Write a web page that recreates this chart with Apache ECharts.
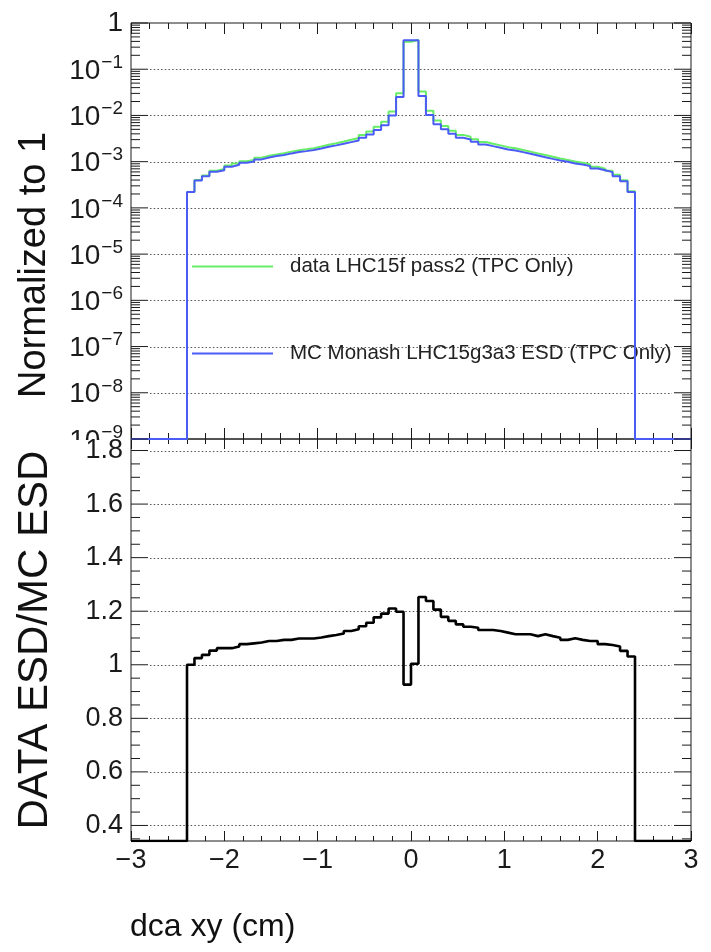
<!DOCTYPE html>
<html>
<head>
<meta charset="utf-8">
<script src="https://cdn.jsdelivr.net/npm/echarts@6/dist/echarts.min.js"></script>
<style>
  html, body { margin: 0; padding: 0; background: #fff; }
  #chart { width: 711px; height: 952px; }
</style>
</head>
<body>
<div id="chart"></div>
<script>
// Histogram binning: 60 bins of 0.08 cm from -2.4 to 2.4 cm
const binLow = -2.4;
const binWidth = 0.08;

// dca_xy distribution in data, normalised to unit area
const dataValues = [
  2.22e-4, 4.01e-4, 5.03e-4, 6.35e-4, 6.96e-4, 8.22e-4, 9.13e-4, 1.018e-3, 1.091e-3, 1.213e-3,
  1.339e-3, 1.437e-3, 1.519e-3, 1.650e-3, 1.768e-3, 1.856e-3, 1.954e-3, 2.127e-3, 2.325e-3, 2.500e-3,
  2.725e-3, 2.984e-3, 3.263e-3, 3.775e-3, 4.501e-3, 5.685e-3, 7.265e-3, 1.210e-2, 3.007e-2, 0.3936,
  0.4267, 3.308e-2, 1.263e-2, 7.73e-3, 5.895e-3, 4.679e-3, 3.798e-3, 3.460e-3, 3.073e-3, 2.667e-3,
  2.452e-3, 2.252e-3, 2.061e-3, 1.950e-3, 1.794e-3, 1.649e-3, 1.506e-3, 1.393e-3, 1.273e-3, 1.167e-3,
  1.085e-3, 1.004e-3, 9.50e-4, 8.71e-4, 7.74e-4, 7.05e-4, 6.37e-4, 5.18e-4, 3.98e-4, 2.29e-4
];

// dca_xy distribution in simulation, normalised to unit area
const mcValues = [
  2.22e-4, 3.91e-4, 4.85e-4, 6.03e-4, 6.55e-4, 7.74e-4, 8.55e-4, 9.45e-4, 1.01e-3, 1.12e-3,
  1.23e-3, 1.32e-3, 1.39e-3, 1.51e-3, 1.61e-3, 1.69e-3, 1.78e-3, 1.93e-3, 2.10e-3, 2.25e-3,
  2.44e-3, 2.65e-3, 2.88e-3, 3.30e-3, 3.89e-3, 4.83e-3, 6.10e-3, 1.00e-2, 2.51e-2, 0.425,
  0.425, 2.64e-2, 1.02e-2, 6.41e-3, 5.0e-3, 4.02e-3, 3.30e-3, 3.03e-3, 2.70e-3, 2.36e-3,
  2.17e-3, 2.0e-3, 1.84e-3, 1.75e-3, 1.61e-3, 1.48e-3, 1.36e-3, 1.25e-3, 1.15e-3, 1.06e-3,
  9.93e-4, 9.14e-4, 8.69e-4, 8.0e-4, 7.11e-4, 6.55e-4, 5.93e-4, 4.85e-4, 3.78e-4, 2.22e-4
];

// DATA / MC ratio per bin
const ratioValues = [
  1.000, 1.025, 1.037, 1.053, 1.062, 1.062, 1.068, 1.077, 1.080, 1.083,
  1.089, 1.089, 1.093, 1.093, 1.098, 1.098, 1.098, 1.102, 1.107, 1.111,
  1.117, 1.126, 1.133, 1.144, 1.157, 1.177, 1.191, 1.210, 1.198, 0.926,
  1.004, 1.253, 1.238, 1.206, 1.179, 1.164, 1.151, 1.142, 1.138, 1.130,
  1.130, 1.126, 1.120, 1.114, 1.114, 1.114, 1.107, 1.114, 1.107, 1.101,
  1.093, 1.099, 1.093, 1.089, 1.089, 1.077, 1.074, 1.068, 1.052, 1.031
];

const seriesNames = ['data LHC15f pass2 (TPC Only)', 'MC Monash LHC15g3a3 ESD (TPC Only)'];
const xRange = [-3, 3];
const normRange = [1e-9, 1];
const ratioRange = [0.342, 1.843];
const decadeExponents = [-9, -8, -7, -6, -5, -4, -3, -2, -1, 0];
const ratioTickValues = [0.4, 0.6, 0.8, 1.0, 1.2, 1.4, 1.6, 1.8];

const FONT = 'Liberation Sans, Arial, Helvetica, sans-serif';
const INK = '#1a1a1a';
const GREEN = '#66ee66';
const BLUE = '#4b5bf5';

// Histogram outline as step points; empty bins outside the range sit on the frame floor
function stepPoints(values, floor) {
  const pts = [[xRange[0], floor]];
  values.forEach((v, i) => pts.push([binLow + i * binWidth, v]));
  pts.push([binLow + values.length * binWidth, floor]);
  pts.push([xRange[1], floor]);
  return pts;
}

// Tick marks on both vertical frame edges: items are [yValue, length]
function edgeTickSeries(xIdx, yIdx, items) {
  return {
    type: 'custom', xAxisIndex: xIdx, yAxisIndex: yIdx, silent: true, z: 6,
    data: items.map(([v, len]) => [xRange[0], v, len]),
    renderItem(params, api) {
      const cs = params.coordSys;
      const y = api.coord([api.value(0), api.value(1)])[1];
      const len = api.value(2);
      const st = { stroke: INK, lineWidth: 1 };
      return { type: 'group', children: [
        { type: 'line', shape: { x1: cs.x, y1: y, x2: cs.x + len, y2: y }, style: st },
        { type: 'line', shape: { x1: cs.x + cs.width - len, y1: y, x2: cs.x + cs.width, y2: y }, style: st }
      ] };
    }
  };
}

// Dotted horizontal grid lines
function gridLineSeries(xIdx, yIdx, values) {
  return {
    type: 'custom', xAxisIndex: xIdx, yAxisIndex: yIdx, silent: true, z: 1,
    data: values.map(v => [xRange[0], v]),
    renderItem(params, api) {
      const cs = params.coordSys;
      const y = Math.round(api.coord([api.value(0), api.value(1)])[1]) + 0.5;
      return { type: 'line', shape: { x1: cs.x + 19, y1: y, x2: cs.x + cs.width - 19, y2: y },
               style: { stroke: '#555', lineWidth: 1, lineDash: [1.5, 2.2] } };
    }
  };
}

// Log-axis ticks: decades long, 2..9 sub-divisions short
const normTicks = [];
decadeExponents.forEach(e => {
  normTicks.push([Math.pow(10, e), 17]);
  if (e < 0) for (let m = 2; m <= 9; m++) normTicks.push([m * Math.pow(10, e), 9]);
});
const normGrid = decadeExponents.slice(1, -1).map(e => Math.pow(10, e));

// Ratio-axis ticks: every 0.2 long, every 0.05 short
const ratioTicks = [];
for (let k = 7; k <= 36; k++) {
  const v = Math.round(k * 5) / 100;
  ratioTicks.push([v, k % 4 === 0 ? 17 : 9]);
}

function xAxisDef(gridIndex, position, showLabels, tickLen) {
  return {
    type: 'value', gridIndex, position, min: xRange[0], max: xRange[1], interval: 1,
    axisLine: { show: false, onZero: false },
    axisTick: { show: true, inside: true, length: tickLen, lineStyle: { color: INK, width: 1 } },
    minorTick: { show: true, splitNumber: 5, length: Math.round(tickLen / 2), lineStyle: { color: INK, width: 1 } },
    splitLine: { show: false },
    axisLabel: {
      show: showLabels, margin: 6, fontFamily: FONT, fontSize: 27, color: INK,
      formatter: v => (v < 0 ? '\u2212' + Math.abs(v) : String(v))
    }
  };
}

const chart = echarts.init(document.getElementById('chart'), null, { renderer: 'canvas' });

chart.setOption({
  animation: false,
  backgroundColor: '#fff',
  grid: [
    { left: 131, top: 23, width: 560, height: 416, show: true, borderColor: INK, borderWidth: 1, backgroundColor: 'transparent' },
    { left: 131, top: 439, width: 560, height: 402, show: true, borderColor: INK, borderWidth: 1, backgroundColor: 'transparent' }
  ],
  xAxis: [
    xAxisDef(0, 'bottom', false, 11),
    xAxisDef(0, 'top', false, 11),
    xAxisDef(1, 'bottom', true, 10),
    xAxisDef(1, 'top', false, 10)
  ],
  yAxis: [
    {
      type: 'log', gridIndex: 0, logBase: 10, min: normRange[0], max: normRange[1], splitNumber: 9,
      axisLine: { show: false, onZero: false }, axisTick: { show: false }, splitLine: { show: false },
      axisLabel: {
        margin: 8, fontFamily: FONT, fontSize: 28, color: INK,
        formatter: v => {
          const e = Math.round(Math.log10(v));
          return e === 0 ? '{b|1}' : '{b|10}{s|\u2212' + (-e) + '}';
        },
        rich: {
          b: { fontFamily: FONT, fontSize: 28, color: INK, verticalAlign: 'bottom' },
          s: { fontFamily: FONT, fontSize: 19, color: INK, verticalAlign: 'bottom', padding: [0, 0, 13, 1] }
        }
      }
    },
    {
      type: 'value', gridIndex: 1, min: ratioRange[0], max: ratioRange[1], z: 3,
      axisLine: { show: false, onZero: false }, axisTick: { show: false }, splitLine: { show: false },
      axisLabel: {
        margin: 8, fontFamily: FONT, fontSize: 27, color: INK,
        customValues: ratioTickValues,
        formatter: v => String(Math.round(v * 10) / 10)
      }
    }
  ],
  legend: {
    data: seriesNames, left: 192, top: 256, orient: 'vertical', padding: 0,
    itemWidth: 81, itemHeight: 2, itemGap: 66, icon: 'rect', selectedMode: false,
    itemStyle: { borderWidth: 0 },
    textStyle: { fontFamily: FONT, fontSize: 20.5, color: '#222', padding: [0, 0, 0, 12] }
  },
  graphic: [
    // clears the lower half of the bottom decade label where the ratio pad begins
    { type: 'rect', z: 2, shape: { x: 0, y: 440, width: 128, height: 18 }, style: { fill: '#fff' } },
    { type: 'text', z: 10, x: 35, y: 265, rotation: Math.PI / 2,
      style: { text: 'Normalized to 1', fontFamily: FONT, fontSize: 38, fill: '#111', align: 'center', verticalAlign: 'middle' } },
    { type: 'text', z: 10, x: 35, y: 640, rotation: Math.PI / 2,
      style: { text: 'DATA ESD/MC ESD', fontFamily: FONT, fontSize: 42, fill: '#111', align: 'center', verticalAlign: 'middle' } },
    { type: 'text', z: 10, x: 130, y: 927,
      style: { text: 'dca xy (cm)', fontFamily: FONT, fontSize: 32, fill: '#111', align: 'left', verticalAlign: 'middle' } }
  ],
  series: [
    gridLineSeries(0, 0, normGrid),
    gridLineSeries(2, 1, ratioTickValues),
    {
      name: seriesNames[0], type: 'line', xAxisIndex: 0, yAxisIndex: 0, step: 'end',
      data: stepPoints(dataValues, normRange[0]), symbol: 'none', silent: true, z: 3,
      lineStyle: { color: GREEN, width: 2 }, itemStyle: { color: GREEN }
    },
    {
      name: seriesNames[1], type: 'line', xAxisIndex: 0, yAxisIndex: 0, step: 'end',
      data: stepPoints(mcValues, normRange[0]), symbol: 'none', silent: true, z: 4,
      lineStyle: { color: BLUE, width: 2 }, itemStyle: { color: BLUE }
    },
    {
      name: 'ratio', type: 'line', xAxisIndex: 2, yAxisIndex: 1, step: 'end',
      data: stepPoints(ratioValues, ratioRange[0]), symbol: 'none', silent: true, z: 4,
      lineStyle: { color: '#000', width: 2.6 }, itemStyle: { color: '#000' }
    },
    edgeTickSeries(0, 0, normTicks),
    edgeTickSeries(2, 1, ratioTicks)
  ]
});
</script>
</body>
</html>
